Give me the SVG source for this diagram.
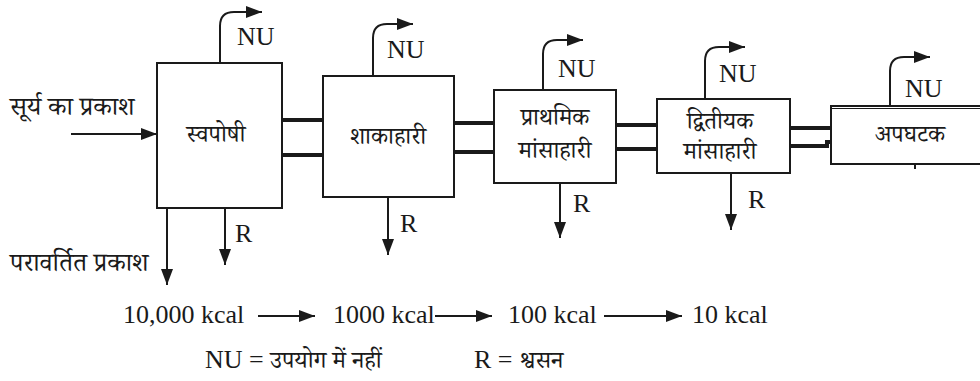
<svg xmlns="http://www.w3.org/2000/svg" width="980" height="381" viewBox="0 0 980 381">
<defs>
<marker id="ah" viewBox="0 0 16 12" refX="16" refY="6" markerWidth="16" markerHeight="12" markerUnits="userSpaceOnUse" orient="auto">
<path d="M0,0 L16,6 L0,12 z" fill="#1a1a1a"/>
</marker>
<style>
.box{fill:#fff;stroke:#1a1a1a;stroke-width:2}
.ln{fill:none;stroke:#1a1a1a;stroke-width:2}
.bar{fill:none;stroke:#1a1a1a;stroke-width:4}
.lat{font-family:"Liberation Serif",serif;font-size:26px;fill:#1a1a1a}
.dev{font-family:"Noto Serif Devanagari","Noto Sans Devanagari","Lohit Devanagari","Noto Sans",sans-serif;font-size:24px;fill:#1a1a1a}
.big{font-size:26px}
</style>
</defs>
<rect width="980" height="381" fill="#fff"/>
<g id="connectors">
<line class="ln" x1="71" y1="134" x2="157" y2="134" marker-end="url(#ah)"/>
<path class="bar" d="M282,120 H323 M282,155 H323"/>
<path class="bar" d="M454,123 H494 M454,152 H494"/>
<path class="bar" d="M616,125 H657 M616,149 H657"/>
<path class="bar" d="M790,128 H831 M790,146 H827 V142 H831"/>
<path class="ln" d="M220,63 V26 Q220,12 234,12 H262" marker-end="url(#ah)"/>
<path class="ln" d="M373,76 V38 Q373,24 387,24 H413" marker-end="url(#ah)"/>
<path class="ln" d="M543,90 V54 Q543,40 557,40 H583" marker-end="url(#ah)"/>
<path class="ln" d="M705,99 V61 Q705,47 719,47 H745" marker-end="url(#ah)"/>
<path class="ln" d="M890,106 V71 Q890,57 904,57 H930" marker-end="url(#ah)"/>
<line class="ln" x1="167" y1="208" x2="167" y2="285" marker-end="url(#ah)"/>
<line class="ln" x1="225" y1="208" x2="225" y2="265" marker-end="url(#ah)"/>
<line class="ln" x1="388" y1="197" x2="388" y2="255" marker-end="url(#ah)"/>
<line class="ln" x1="560" y1="183" x2="560" y2="238" marker-end="url(#ah)"/>
<line class="ln" x1="731" y1="173" x2="731" y2="230" marker-end="url(#ah)"/>
<line class="ln" x1="915" y1="164" x2="915" y2="169"/>
<line class="ln" x1="258" y1="316" x2="315" y2="316" marker-end="url(#ah)"/>
<line class="ln" x1="435" y1="316" x2="492" y2="316" marker-end="url(#ah)"/>
<line class="ln" x1="604" y1="316" x2="682" y2="316" marker-end="url(#ah)"/>
</g>
<g id="node-autotroph">
<rect class="box" x="157" y="63" width="125" height="145"/>
<text class="dev" x="216" y="142" text-anchor="middle">स्वपोषी</text>
</g>
<g id="node-herbivore">
<rect class="box" x="323" y="76" width="131" height="121"/>
<text class="dev" x="388" y="144" text-anchor="middle">शाकाहारी</text>
</g>
<g id="node-primary">
<rect class="box" x="494" y="90" width="122" height="93"/>
<text class="dev" x="555" y="125" text-anchor="middle">प्राथमिक</text>
<text class="dev" x="555" y="158" text-anchor="middle">मांसाहारी</text>
</g>
<g id="node-secondary">
<rect class="box" x="657" y="99" width="133" height="74"/>
<text class="dev" x="720" y="129" text-anchor="middle">द्वितीयक</text>
<text class="dev" x="720" y="159" text-anchor="middle">मांसाहारी</text>
</g>
<g id="node-decomposer">
<rect class="box" x="831" y="106" width="160" height="58"/>
<line x1="831" y1="108.5" x2="980" y2="108.5" stroke="#1a1a1a" stroke-width="1"/>
<text class="dev" x="910" y="142" text-anchor="middle">अपघटक</text>
</g>
<g id="labels">
<text class="dev big" x="10" y="115">सूर्य का प्रकाश</text>
<text class="dev big" x="10" y="271">परावर्तित प्रकाश</text>
<text class="lat" x="237" y="45">NU</text>
<text class="lat" x="387" y="58">NU</text>
<text class="lat" x="558" y="77">NU</text>
<text class="lat" x="719" y="82">NU</text>
<text class="lat" x="905" y="97">NU</text>
<text class="lat" x="235" y="242">R</text>
<text class="lat" x="400" y="232">R</text>
<text class="lat" x="573" y="212">R</text>
<text class="lat" x="748" y="208">R</text>
<text class="lat" x="123" y="323">10,000 kcal</text>
<text class="lat" x="333" y="323">1000 kcal</text>
<text class="lat" x="508" y="323">100 kcal</text>
<text class="lat" x="692" y="323">10 kcal</text>
<text class="lat" x="205" y="368">NU = <tspan class="dev">उपयोग में नहीं</tspan></text>
<text class="lat" x="474" y="368">R = <tspan class="dev">श्वसन</tspan></text>
</g>
</svg>
